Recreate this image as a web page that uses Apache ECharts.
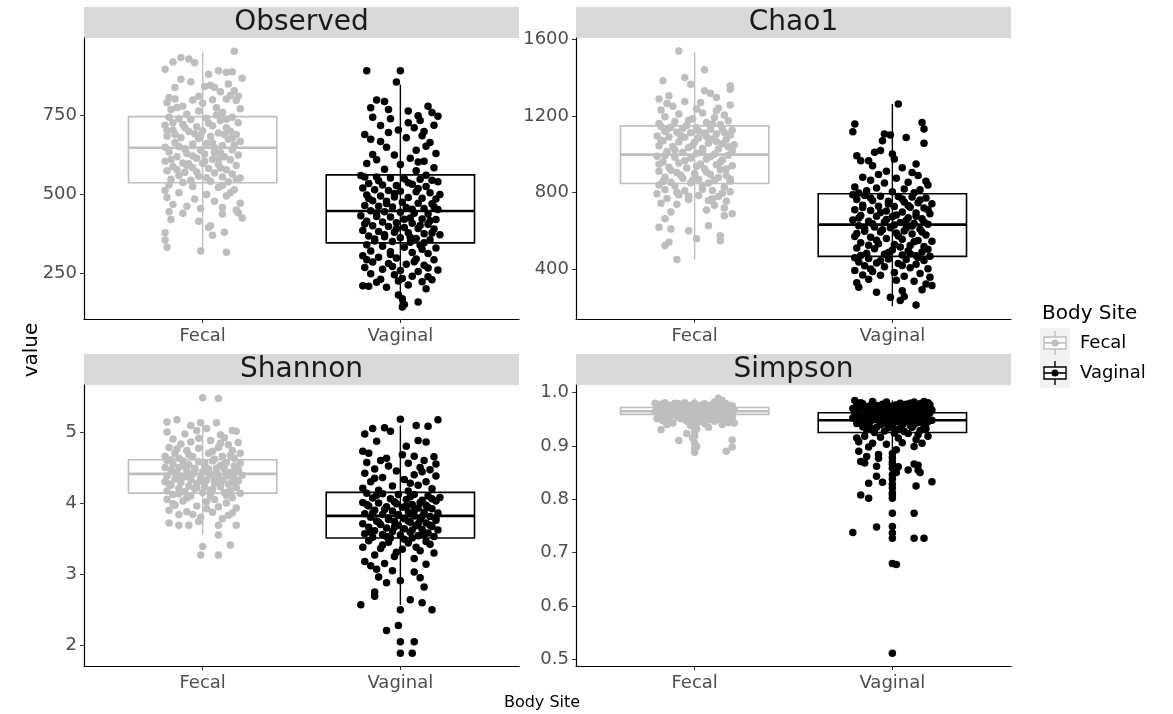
<!DOCTYPE html>
<html>
<head>
<meta charset="UTF-8">
<script src="https://cdn.jsdelivr.net/npm/echarts@6/dist/echarts.min.js"></script>
<style>
	html,body{margin:0;padding:0;background:#fff;}
	#main{width:1173px;height:714px;}
</style>
</head>
<body>
<div id="main"></div>
<script>
// categories / metrics
var sites = ['Fecal', 'Vaginal'];
var metrics = ['Observed', 'Chao1', 'Shannon', 'Simpson'];

// jittered points: [offset from category centre, value]
var obsFecal = [
[0.16,955],[-0.19,898],[-0.15,921],[-0.11,935],[-0.07,930],[-0.04,918],[0.08,893],[0.12,888],[0.15,890],[0.20,869],
[0.03,882],[0.04,847],[0.06,840],[-0.14,840],[-0.17,808],[-0.14,803],[-0.18,792],[0.16,829],[0.14,814],[0.12,803],[0.17,798],[-0.05,800],[-0.10,780],[0.00,790],[0.07,775],[-0.02,765],[0.10,760],[-0.16,770],[0.19,772],[-0.08,755],
[-0.17,745],[-0.12,740],[-0.06,738],[0.02,742],[0.09,735],[0.15,745],[0.18,728],[-0.19,720],[-0.10,722],[-0.03,715],[0.05,718],[0.12,712],[-0.15,705],[-0.07,700],[0.00,702],[0.08,695],[0.17,690],[-0.18,685],[-0.11,680],[-0.02,678],[0.04,684],[0.13,675],[0.19,668],[-0.14,665],[-0.05,660],[0.02,662],[0.10,655],[-0.19,650],[-0.09,645],[0.06,648],[0.15,642],[-0.01,640],[0.11,690],
[-0.17,635],[-0.08,630],[0.01,628],[0.09,632],[0.18,625],[-0.13,620],[-0.03,615],[0.05,612],[0.14,610],[-0.19,605],[-0.10,600],[0.00,598],[0.08,595],[0.17,592],[-0.15,588],[-0.05,585],[0.03,582],[0.12,578],[-0.18,575],[-0.09,570],[0.06,568],[0.15,565],[-0.12,560],[-0.02,558],[0.10,555],[0.19,552],[-0.16,548],[-0.06,545],[0.04,542],[0.13,540],[-0.10,538],[0.01,605],[-0.08,592],
[-0.17,530],[-0.05,525],[0.08,522],[0.16,515],[-0.12,505],[0.02,500],[0.12,495],[-0.18,490],[-0.04,485],[0.06,478],[0.19,472],[-0.15,468],[-0.08,462],[0.10,458],[-0.01,455],[0.17,450],[0.14,505],[-0.19,512],
[-0.17,445],[-0.10,440],[0.10,438],[0.18,442],[-0.16,420],[0.20,425],[-0.02,415],[0.04,400],[0.03,395],[0.11,380],[-0.19,378],[0.05,370],[-0.19,355],[-0.18,332],[-0.01,320],[0.12,316],
[-0.02,812],[0.09,826],[-0.13,776],[0.05,801],[-0.06,858],[0.13,851],[-0.11,866],[0.01,843],[0.18,812],[-0.15,728],[0.07,752],[-0.04,693],[0.14,701],[-0.09,712],[0.03,726],[0.16,657],[-0.12,652],[0.06,633],[-0.16,611],[0.11,620],[-0.03,571],[0.02,553],[-0.07,597],[0.09,584],[0.17,548],[-0.13,579],[0.05,663],[-0.01,687],[0.12,739],[-0.18,702],[0.08,612],[-0.05,622],[0.15,679],[-0.14,690],[0.10,528]
];
var obsVaginal = [
[-0.17,893],[0.00,893],[-0.02,857],[-0.12,800],[-0.08,795],[-0.15,775],[-0.06,770],[0.14,780],[0.04,765],[0.09,750],[0.16,760],[-0.14,745],[-0.05,740],[0.10,735],[0.19,748],[0.17,720],[-0.01,705],[0.07,712],[0.12,700],[-0.18,690],[-0.15,675],[-0.10,668],[0.03,680],[0.15,665],[-0.07,650],[0.08,640],[0.18,630],[-0.03,625],[0.05,615],[-0.12,610],[0.12,605],[-0.17,598],[0.00,595],[0.17,585],[-0.08,580],[0.08,575],
[-0.20,560],[-0.18,555],[-0.12,555],[-0.05,552],[0.02,550],[0.10,548],[0.16,545],[0.19,540],[-0.16,535],[-0.09,530],[-0.02,528],[0.06,532],[0.13,525],[-0.19,520],[-0.13,515],[-0.06,512],[0.00,510],[0.08,508],[0.15,505],[0.20,500],[-0.17,498],[-0.10,495],[-0.03,492],[0.04,490],[0.11,488],[0.18,485],[-0.14,480],[-0.07,478],[0.01,475],[0.09,472],[0.16,470],[-0.18,465],[-0.11,462],[-0.04,460],[0.03,458],[0.12,455],[0.19,452],[-0.15,448],[-0.08,445],[0.00,443],[0.07,440],[0.14,438],[-0.20,432],[-0.12,430],[-0.05,428],[0.05,425],[0.11,422],[0.18,420],[-0.17,415],[-0.09,412],[-0.02,410],[0.06,408],[0.14,405],[-0.14,400],[-0.06,398],[0.02,395],[0.09,392],[0.17,390],[-0.19,385],[-0.11,382],[-0.03,380],[0.04,378],[0.12,375],[0.20,372],[-0.16,368],[-0.08,365],[0.00,362],[0.08,360],[0.15,356],[-0.13,352],[-0.04,350],[0.05,348],[0.12,346],
[-0.17,340],[-0.09,335],[0.02,332],[0.10,338],[0.18,330],[-0.15,320],[-0.05,318],[0.06,315],[0.14,312],[-0.19,305],[-0.11,300],[-0.02,298],[0.08,295],[0.17,292],[-0.14,285],[-0.06,280],[0.03,278],[0.12,275],[-0.18,268],[-0.09,262],[0.00,258],[0.09,255],[0.19,260],[-0.15,248],[-0.03,245],[0.06,240],[0.14,238],[-0.10,230],[-0.01,225],[0.11,222],[-0.19,210],[-0.16,208],[-0.07,205],[0.04,212],[0.13,200],[-0.01,180],[0.01,168],[0.09,158],[0.02,150],[0.01,142],
[-0.11,543],[0.04,537],[0.13,561],[-0.03,503],[0.09,519],[-0.16,487],[0.17,461],[-0.07,471],[0.06,453],[-0.12,441],[0.02,421],[0.15,416],[-0.18,406],[-0.02,391],[0.10,401],[-0.08,372],[0.05,364],[0.16,377],[-0.13,358],[0.11,326],[-0.05,309],[0.07,286],[-0.17,292],[0.14,266],[-0.04,271],[0.01,233],[-0.12,221],[0.16,229],[0.09,603],[-0.14,627],[0.13,653],[-0.10,719],[0.04,728],[0.11,686],[-0.06,697]
];
var chaoFecal = [
[-0.08,1538],[0.05,1440],[-0.16,1382],[-0.05,1400],[-0.02,1365],[0.18,1356],[0.18,1338],[0.05,1330],[0.08,1318],[0.11,1295],[-0.18,1288],[-0.13,1305],[0.18,1256],[-0.05,1275],[0.03,1270],[0.12,1240],[-0.11,1250],[-0.17,1230],[0.04,1215],[-0.08,1210],[0.15,1205],[-0.15,1195],[0.10,1190],[-0.01,1185],[0.17,1175],[-0.10,1170],[0.06,1165],[-0.18,1160],[0.13,1155],[-0.04,1150],
[-0.17,1145],[-0.12,1140],[-0.06,1135],[0.01,1138],[0.08,1130],[0.14,1132],[0.19,1125],[-0.15,1120],[-0.09,1115],[-0.02,1112],[0.05,1110],[0.11,1105],[0.18,1100],[-0.19,1095],[-0.13,1090],[-0.05,1088],[0.02,1085],[0.09,1080],[0.16,1078],[-0.16,1070],[-0.08,1065],[0.00,1062],[0.07,1058],[0.14,1055],[0.20,1050],[-0.18,1045],[-0.11,1040],[-0.03,1035],[0.04,1030],[0.12,1028],[0.19,1020],[-0.14,1015],[-0.06,1010],[0.01,1005],[0.10,1000],[0.17,995],[-0.19,990],[-0.10,985],[-0.02,980],[0.06,975],[0.14,970],[-0.16,960],[-0.08,955],[0.03,950],[0.11,945],[0.19,940],[-0.13,932],[-0.04,928],[0.05,925],[0.13,920],[-0.18,912],[-0.09,905],[0.00,900],[0.08,895],[0.16,890],[-0.15,880],[-0.06,875],[0.02,870],[0.10,865],[0.18,860],[-0.12,855],[-0.02,852],[0.07,850],
[-0.18,840],[-0.10,835],[0.04,838],[0.15,830],[-0.15,815],[-0.05,810],[0.09,812],[0.18,805],[-0.19,795],[-0.08,790],[0.02,785],[0.12,780],[-0.14,770],[-0.03,765],[0.07,760],[0.16,755],[-0.17,745],[-0.09,740],[0.10,735],[0.15,720],[0.06,710],[-0.12,700],[0.19,690],[0.15,680],[-0.15,665],[0.07,628],[-0.18,620],[-0.12,611],[-0.03,602],[0.13,576],[0.01,560],[0.13,550],[-0.13,542],[-0.15,525],[-0.09,452],
[-0.03,1177],[0.09,1158],[-0.14,1129],[0.02,1121],[0.15,1113],[-0.07,1097],[0.06,1093],[-0.17,1073],[0.11,1067],[-0.01,1046],[0.17,1039],[-0.10,1022],[0.04,1013],[-0.15,994],[0.08,988],[-0.05,967],[0.13,959],[-0.18,948],[0.01,938],[0.16,924],[-0.12,917],[0.06,908],[-0.07,891],[0.12,879],[-0.01,866],[0.18,871],[-0.16,858],[0.04,818],[-0.09,802],[0.14,797],[-0.03,781],[0.09,769],[0.11,1227],[-0.14,1264],[0.01,1236]
];
var chaoVaginal = [
[0.03,1262],[-0.19,1157],[-0.20,1117],[0.15,1165],[0.16,1131],[0.16,1058],[0.07,1087],[-0.04,1105],[-0.01,1100],[-0.05,1070],[-0.09,1010],[-0.06,1020],[-0.18,992],[-0.16,966],[-0.12,966],[0.00,1001],[0.01,975],[0.12,949],[-0.10,940],[0.05,930],[-0.03,912],[0.10,905],[-0.07,895],[0.13,890],[-0.15,880],[0.02,875],[0.17,860],[-0.11,865],[0.08,855],[-0.04,850],[0.18,840],[-0.19,830],[-0.08,825],[0.06,820],[0.14,815],[-0.13,810],[0.00,805],[0.11,800],[-0.17,798],
[-0.20,790],[-0.14,785],[-0.06,782],[0.03,780],[0.10,778],[0.17,772],[-0.18,765],[-0.10,760],[-0.02,755],[0.06,752],[0.13,748],[0.20,742],[-0.15,735],[-0.07,730],[0.01,728],[0.09,725],[0.16,720],[-0.19,712],[-0.11,708],[-0.03,705],[0.05,700],[0.12,695],[0.19,690],[-0.16,682],[-0.08,678],[0.00,675],[0.08,670],[0.15,665],[-0.20,658],[-0.12,652],[-0.04,648],[0.04,645],[0.11,640],[0.18,636],[-0.17,628],[-0.09,622],[-0.01,618],[0.07,615],[0.14,610],[-0.14,600],[-0.06,595],[0.02,590],[0.10,585],[0.17,580],[-0.19,572],[-0.11,568],[-0.03,562],[0.05,558],[0.13,552],[0.20,548],[-0.16,540],[-0.07,535],[0.01,530],[0.09,525],[0.16,520],[-0.18,512],[-0.09,508],[0.00,502],[0.08,498],[0.15,492],[-0.13,485],[-0.04,480],[0.05,476],[0.12,472],[0.19,470],
[-0.19,462],[-0.12,458],[-0.02,455],[0.07,452],[0.16,448],[-0.17,440],[-0.08,435],[0.03,432],[0.12,428],[-0.14,420],[-0.04,415],[0.09,410],[0.18,405],[-0.19,395],[-0.10,390],[0.01,385],[0.14,380],[-0.15,372],[-0.06,370],[0.06,365],[0.19,360],[-0.12,350],[0.02,345],[0.11,340],[-0.18,332],[0.17,325],[-0.17,308],[0.20,317],[-0.08,282],[0.05,290],[-0.01,256],[0.04,239],[0.12,216],[0.06,260],[0.15,295],
[-0.11,772],[0.05,767],[0.14,762],[-0.02,741],[0.08,734],[-0.15,723],[0.18,711],[-0.06,697],[0.02,684],[0.12,677],[-0.17,668],[-0.03,661],[0.07,656],[0.16,648],[-0.10,638],[0.01,632],[0.10,627],[-0.14,614],[-0.05,607],[0.06,601],[0.15,596],[-0.18,588],[0.03,575],[-0.08,553],[0.11,545],[-0.12,527],[0.04,517],[0.18,506],[-0.02,489],[0.09,483],[-0.16,474],[0.13,463],[-0.06,446],[0.05,421],[-0.11,403]
];
var shanFecal = [
[0.00,5.48],[0.08,5.47],[-0.18,5.14],[-0.13,5.17],[-0.01,5.13],[0.07,5.13],[0.15,5.02],[0.17,5.01],[-0.18,5.00],[-0.03,5.02],[0.02,5.05],[-0.09,4.97],[0.11,4.92],[-0.15,4.90],[0.04,4.88],[-0.06,4.86],[0.18,4.85],[0.13,4.82],[-0.11,4.83],[-0.17,4.78],[0.08,4.78],[-0.02,4.77],[0.15,4.74],[-0.08,4.74],[0.19,4.70],[-0.14,4.70],[0.03,4.70],[-0.19,4.66],[0.10,4.66],[-0.05,4.65],[0.16,4.63],[-0.12,4.63],[0.06,4.62],
[-0.18,4.60],[-0.10,4.59],[-0.02,4.58],[0.05,4.59],[0.12,4.57],[0.19,4.56],[-0.15,4.55],[-0.07,4.54],[0.01,4.53],[0.09,4.53],[0.16,4.52],[-0.19,4.50],[-0.12,4.50],[-0.04,4.49],[0.03,4.48],[0.11,4.48],[0.18,4.47],[-0.16,4.46],[-0.08,4.45],[0.00,4.44],[0.07,4.44],[0.14,4.43],[-0.13,4.42],[-0.05,4.41],[0.04,4.40],[0.12,4.40],[0.20,4.39],[-0.18,4.38],[-0.09,4.37],[-0.01,4.36],[0.08,4.36],[0.16,4.35],[-0.14,4.34],[-0.06,4.33],[0.02,4.32],[0.10,4.32],[0.18,4.31],[-0.19,4.30],[-0.11,4.29],[-0.03,4.28],[0.06,4.28],[0.13,4.27],[-0.16,4.25],[-0.07,4.24],[0.01,4.23],[0.09,4.23],[0.17,4.22],[-0.12,4.21],[-0.04,4.20],[0.05,4.19],[0.14,4.18],[-0.18,4.17],[-0.09,4.16],[0.00,4.15],[0.11,4.15],[0.19,4.14],
[-0.15,4.12],[-0.06,4.10],[0.04,4.10],[0.15,4.08],[-0.18,4.05],[-0.10,4.03],[0.02,4.02],[0.12,4.00],[-0.14,3.97],[-0.03,3.96],[0.08,3.95],[0.17,3.93],[-0.17,3.90],[-0.08,3.88],[0.05,3.87],[-0.12,3.84],[0.13,3.83],[-0.01,3.80],[0.10,3.78],[-0.17,3.72],[-0.12,3.69],[-0.07,3.69],[-0.02,3.74],[0.08,3.69],[0.17,3.69],[0.08,3.55],[0.00,3.39],[0.14,3.41],[-0.01,3.27],[0.08,3.27],
[-0.02,4.91],[0.09,4.84],[-0.13,4.76],[0.05,4.73],[-0.07,4.68],[0.14,4.67],[-0.16,4.61],[0.01,4.57],[0.11,4.55],[-0.09,4.52],[0.07,4.49],[-0.04,4.47],[0.17,4.45],[-0.14,4.43],[0.03,4.42],[-0.06,4.39],[0.13,4.38],[-0.11,4.35],[0.06,4.34],[-0.01,4.31],[0.15,4.29],[-0.17,4.27],[0.09,4.26],[-0.03,4.22],[0.04,4.18],[-0.12,4.13],[0.12,4.11],[-0.08,4.07],[0.06,4.05],[-0.15,3.99],[0.02,3.92],[0.15,3.86],[-0.05,3.84],[0.09,4.96],[-0.06,5.09]
];
var shanVaginal = [
[0.00,5.18],[0.19,5.17],[0.08,5.09],[0.14,5.08],[-0.14,5.05],[-0.08,5.06],[-0.05,5.01],[-0.18,4.97],[-0.12,4.87],[0.09,4.88],[0.13,4.86],[-0.19,4.73],[-0.16,4.70],[0.01,4.68],[0.07,4.66],[0.17,4.65],[-0.10,4.60],[0.12,4.60],[-0.17,4.57],[0.18,4.55],[0.04,4.56],[-0.06,4.52],[0.10,4.50],[-0.13,4.48],[0.15,4.47],[-0.02,4.45],[-0.18,4.42],[0.07,4.40],[0.18,4.38],[-0.09,4.36],[0.02,4.33],[-0.15,4.30],[0.13,4.30],[0.09,4.25],[-0.04,4.24],[-0.19,4.21],[0.16,4.20],[-0.11,4.18],[0.04,4.17],
[-0.17,4.14],[-0.09,4.13],[-0.01,4.12],[0.07,4.12],[0.14,4.10],[0.20,4.08],[-0.14,4.07],[-0.05,4.06],[0.03,4.05],[0.11,4.04],[0.18,4.03],[-0.19,4.01],[-0.11,4.00],[-0.02,3.99],[0.06,3.98],[0.13,3.97],[-0.16,3.96],[-0.07,3.95],[0.01,3.94],[0.09,3.93],[0.16,3.92],[-0.13,3.90],[-0.04,3.89],[0.04,3.88],[0.12,3.87],[0.19,3.86],[-0.18,3.85],[-0.09,3.84],[-0.01,3.83],[0.07,3.82],[0.15,3.81],[-0.15,3.80],[-0.06,3.79],[0.02,3.78],[0.10,3.77],[0.18,3.76],[-0.12,3.75],[-0.03,3.74],[0.05,3.73],[0.13,3.72],[-0.19,3.71],[-0.10,3.70],[-0.01,3.69],[0.08,3.68],[0.16,3.67],[-0.16,3.66],[-0.07,3.65],[0.02,3.64],[0.11,3.63],[0.19,3.62],[-0.13,3.61],[-0.04,3.60],[0.05,3.59],[0.14,3.58],[-0.18,3.57],[-0.09,3.56],[0.00,3.55],[0.09,3.54],[0.17,3.53],[-0.14,3.52],[-0.05,3.51],[0.06,3.51],
[-0.16,3.47],[-0.06,3.45],[0.04,3.44],[0.15,3.42],[-0.19,3.38],[-0.10,3.36],[0.01,3.35],[0.10,3.33],[0.17,3.30],[-0.13,3.27],[-0.03,3.25],[0.07,3.22],[-0.18,3.18],[-0.08,3.15],[0.13,3.14],[-0.12,3.07],[-0.04,3.05],[0.07,3.03],[-0.11,2.96],[0.10,2.95],[0.00,2.91],[-0.07,2.88],[-0.13,2.75],[0.12,2.82],[-0.13,2.69],[0.05,2.64],[0.11,2.60],[-0.20,2.57],[0.00,2.50],[0.16,2.50],[-0.01,2.28],[-0.07,2.21],[0.00,2.05],[0.07,2.05],[0.00,1.89],[0.06,1.89],
[-0.12,4.11],[0.05,4.09],[0.16,4.06],[-0.03,4.02],[0.10,4.01],[-0.17,3.98],[0.03,3.96],[0.14,3.94],[-0.08,3.91],[0.07,3.89],[-0.14,3.86],[-0.01,3.84],[0.11,3.81],[0.18,3.79],[-0.06,3.77],[0.04,3.75],[-0.11,3.73],[0.09,3.71],[0.15,3.69],[-0.03,3.66],[0.06,3.62],[-0.15,3.59],[0.12,3.56],[-0.07,3.53],[0.02,3.49],[0.13,3.46],[-0.09,3.41],[0.08,3.38],[-0.02,3.31],[0.05,4.28],[-0.13,4.35],[0.11,4.44],[-0.07,4.63],[0.03,4.80],[-0.15,3.12]
];
var simpFecal = [
[0.12,0.989],[0.14,0.985],[0.10,0.982],[-0.20,0.980],[-0.15,0.981],[-0.10,0.980],[-0.05,0.981],[0.00,0.980],[0.05,0.979],[0.16,0.979],[-0.18,0.977],[-0.12,0.976],[-0.07,0.977],[-0.02,0.976],[0.03,0.975],[0.08,0.976],[0.13,0.977],[0.19,0.975],[-0.16,0.974],[-0.09,0.973],[-0.04,0.974],[0.01,0.973],[0.06,0.972],[0.11,0.973],[0.17,0.972],[-0.19,0.971],[-0.13,0.970],[-0.06,0.971],[0.00,0.970],[0.04,0.969],[0.09,0.970],[0.15,0.969],[0.20,0.968],[-0.17,0.967],[-0.11,0.968],[-0.03,0.967],[0.02,0.966],[0.07,0.967],[0.12,0.966],[0.18,0.965],[-0.20,0.964],[-0.14,0.965],[-0.08,0.964],[-0.01,0.963],[0.05,0.964],[0.10,0.963],[0.16,0.962],[-0.16,0.961],[-0.10,0.962],[-0.05,0.961],[0.03,0.960],[0.08,0.961],[0.14,0.960],[0.19,0.959],[-0.18,0.958],[-0.12,0.957],[-0.06,0.958],[0.01,0.957],[0.06,0.956],[0.11,0.957],[0.17,0.956],[-0.15,0.954],[-0.09,0.955],[-0.02,0.954],[0.04,0.953],[0.09,0.954],[0.15,0.952],[-0.19,0.951],[-0.13,0.950],[-0.07,0.951],[0.00,0.950],[0.07,0.949],[0.12,0.950],[0.18,0.948],[-0.16,0.947],[-0.04,0.946],[0.02,0.945],[0.10,0.946],[0.17,0.944],[-0.11,0.943],[0.05,0.942],[0.20,0.943],[-0.17,0.930],[-0.14,0.940],[0.14,0.940],[0.00,0.936],[0.07,0.935],[-0.04,0.923],[0.00,0.927],[0.00,0.918],[-0.08,0.910],[0.00,0.905],[0.19,0.911],[0.19,0.898],[0.00,0.896],[0.16,0.890],[0.00,0.888],[-0.01,0.948],[0.01,0.944],[-0.02,0.938],
[-0.17,0.978],[-0.08,0.979],[0.04,0.977],[0.15,0.976],[-0.14,0.973],[-0.02,0.972],[0.10,0.971],[0.18,0.970],[-0.11,0.969],[0.02,0.968],[0.13,0.967],[-0.19,0.966],[-0.06,0.965],[0.06,0.964],[0.17,0.963],[-0.13,0.962],[-0.01,0.961],[0.12,0.959],[-0.16,0.956],[0.03,0.955],[0.15,0.957],[-0.08,0.953],[0.08,0.952],[-0.03,0.949],[0.19,0.953],[0.01,0.932],[-0.01,0.915],[0.01,0.899],[0.18,0.962],[-0.18,0.961]
];
var simpVaginal = [
[-0.19,0.985],[-0.10,0.983],[0.11,0.982],[0.16,0.983],[0.04,0.980],[-0.15,0.979],[-0.05,0.978],[0.07,0.978],[0.14,0.979],[0.19,0.977],[-0.18,0.975],[-0.12,0.974],[-0.07,0.975],[-0.01,0.974],[0.03,0.975],[0.09,0.973],[0.13,0.974],[0.17,0.972],[-0.20,0.970],[-0.14,0.970],[-0.08,0.969],[-0.03,0.970],[0.01,0.968],[0.06,0.969],[0.11,0.968],[0.16,0.970],[0.20,0.967],[-0.17,0.966],[-0.11,0.965],[-0.05,0.966],[0.00,0.964],[0.05,0.965],[0.10,0.964],[0.15,0.963],[0.19,0.962],[-0.19,0.961],[-0.13,0.960],[-0.08,0.961],[-0.02,0.960],[0.03,0.959],[0.08,0.960],[0.13,0.958],[0.18,0.959],[-0.16,0.957],[-0.10,0.956],[-0.04,0.956],[0.01,0.955],[0.06,0.954],[0.12,0.955],[0.17,0.953],[-0.20,0.952],[-0.14,0.951],[-0.07,0.952],[-0.01,0.950],[0.04,0.951],[0.09,0.949],[0.15,0.950],[0.20,0.948],[-0.17,0.947],[-0.11,0.946],[-0.05,0.947],[0.02,0.945],[0.07,0.946],[0.13,0.944],[0.18,0.945],[-0.18,0.942],[-0.12,0.941],[-0.06,0.940],[0.00,0.941],[0.05,0.939],[0.11,0.940],[0.16,0.938],[-0.15,0.936],[-0.08,0.935],[-0.02,0.934],[0.04,0.933],[0.10,0.935],[0.17,0.932],[-0.13,0.930],[-0.04,0.928],[0.06,0.927],[0.14,0.929],[-0.09,0.925],[0.01,0.924],[0.08,0.923],
[-0.14,0.918],[-0.06,0.916],[0.03,0.915],[0.12,0.912],[0.18,0.918],[-0.17,0.908],[-0.10,0.905],[-0.03,0.903],[0.05,0.906],[0.15,0.905],[-0.12,0.898],[0.11,0.899],[-0.17,0.890],[0.02,0.893],[-0.07,0.884],[0.00,0.886],[-0.13,0.880],[0.00,0.878],[-0.07,0.877],[-0.16,0.871],[-0.14,0.868],[0.00,0.870],[0.11,0.866],[0.13,0.864],[0.03,0.861],[-0.08,0.862],[0.08,0.855],[0.13,0.855],[0.00,0.858],[0.02,0.850],[0.00,0.846],[-0.08,0.843],[0.14,0.850],[0.00,0.838],[-0.05,0.832],[-0.12,0.830],[0.12,0.825],[0.20,0.833],[0.00,0.828],[0.00,0.821],[0.00,0.812],[-0.16,0.808],[-0.12,0.802],[0.00,0.808],[0.00,0.802],[0.00,0.774],[0.11,0.774],[-0.20,0.738],[-0.08,0.748],[0.00,0.749],[0.00,0.737],[0.00,0.727],[0.11,0.727],[0.16,0.727],[0.00,0.680],[0.02,0.678],[0.00,0.512],
[-0.16,0.981],[-0.03,0.982],[0.09,0.980],[0.18,0.981],[-0.09,0.977],[0.02,0.977],[0.12,0.976],[-0.16,0.972],[-0.04,0.972],[0.08,0.971],[0.19,0.971],[-0.13,0.967],[0.03,0.967],[0.14,0.966],[-0.09,0.963],[0.00,0.962],[0.10,0.961],[-0.18,0.958],[-0.06,0.958],[0.05,0.957],[0.16,0.956],[-0.12,0.953],[0.02,0.953],[0.11,0.952],[-0.08,0.949],[0.06,0.948],[0.17,0.943],[-0.15,0.944],[-0.03,0.942],[0.09,0.938],[-0.11,0.933],[0.02,0.930],[0.13,0.921],[-0.18,0.915],[0.00,0.865]
];

// box stats: [lower whisker, Q1, median, Q3, upper whisker] for Fecal, Vaginal
var obsBox = [[320,537,648,747,954],[142,346,447,562,849]];
var chaoBox = [[452,848,998,1148,1533],[209,469,634,795,1262]];
var shanBox = [[3.55,4.14,4.41,4.61,5.13],[2.57,3.51,3.82,4.15,5.09]];
var simpBox = [[0.941,0.959,0.965,0.972,0.989],[0.870,0.925,0.948,0.962,0.985]];

// y tick labels per panel
var obsTicks = [250, 500, 750];
var chaoTicks = [400, 800, 1200, 1600];
var shanTicks = [2, 3, 4, 5];
var simpTicks = [0.5, 0.6, 0.7, 0.8, 0.9, 1.0];

var panels = [
	{name:'Observed', pts:[obsFecal, obsVaginal], box:obsBox, ticks:obsTicks, min:104, max:997, dec:0, left:84, top:38},
	{name:'Chao1', pts:[chaoFecal, chaoVaginal], box:chaoBox, ticks:chaoTicks, min:143, max:1605, dec:0, left:576, top:38},
	{name:'Shannon', pts:[shanFecal, shanVaginal], box:shanBox, ticks:shanTicks, min:1.71, max:5.66, dec:0, left:84, top:385},
	{name:'Simpson', pts:[simpFecal, simpVaginal], box:simpBox, ticks:simpTicks, min:0.488, max:1.014, dec:1, left:576, top:385}
];
var colors = ['#bebebe', '#000000'];
var font = 'DejaVu Sans';
var W = 435, H = 281;

var chart = echarts.init(document.getElementById('main'), null, {renderer:'canvas'});

var grids = [], xAxes = [], yAxes = [], series = [], graphics = [];

panels.forEach(function(p, i){
	grids.push({left:p.left, top:p.top, width:W, height:H});
	xAxes.push({
		type:'value', gridIndex:i, min:0.4, max:2.6,
		splitLine:{show:false},
		axisLine:{lineStyle:{color:'#000', width:1.2}},
		axisTick:{customValues:[1,2], length:4, lineStyle:{color:'#333'}},
		axisLabel:{customValues:[1,2], margin:8, fontSize:18, color:'#4d4d4d', fontFamily:font,
			formatter:function(v){ return sites[Math.round(v)-1]; }}
	});
	yAxes.push({
		type:'value', gridIndex:i, min:p.min, max:p.max,
		splitLine:{show:false},
		axisLine:{show:true, lineStyle:{color:'#000', width:1.2}},
		axisTick:{show:true, customValues:p.ticks, length:4, lineStyle:{color:'#333'}},
		axisLabel:{customValues:p.ticks, margin:7, fontSize:18, color:'#4d4d4d', fontFamily:font,
			formatter:(function(d){ return function(v){ return v.toFixed(d); }; })(p.dec)}
	});
	// boxes
	series.push({
		type:'custom', xAxisIndex:i, yAxisIndex:i, z:2, silent:true,
		data:p.box.map(function(b, k){ return [k+1].concat(b); }),
		encode:{x:0, y:[1,2,3,4,5]},
		renderItem:function(params, api){
			var x = api.value(0);
			var col = colors[params.dataIndex];
			var lo = api.coord([x, api.value(1)]);
			var q1 = api.coord([x - 0.375, api.value(2)]);
			var md = api.coord([x - 0.375, api.value(3)]);
			var q3 = api.coord([x + 0.375, api.value(4)]);
			var hi = api.coord([x, api.value(5)]);
			return {type:'group', children:[
				{type:'line', shape:{x1:lo[0], y1:lo[1], x2:hi[0], y2:hi[1]}, style:{stroke:col, lineWidth:1.4}},
				{type:'rect', shape:{x:q1[0], y:q3[1], width:q3[0]-q1[0], height:q1[1]-q3[1]}, style:{fill:'none', stroke:col, lineWidth:1.6}},
				{type:'line', shape:{x1:md[0], y1:md[1], x2:q3[0], y2:md[1]}, style:{stroke:col, lineWidth:2.6}}
			]};
		}
	});
	// jittered points
	p.pts.forEach(function(arr, k){
		series.push({
			type:'scatter', xAxisIndex:i, yAxisIndex:i, z:3, silent:true,
			symbolSize:7.5, itemStyle:{color:colors[k], opacity:1},
			data:arr.map(function(d){ return [k+1+d[0], d[1]]; })
		});
	});
	// facet strip
	graphics.push({type:'rect', shape:{x:p.left, y:p.top-31, width:W, height:31}, style:{fill:'#d9d9d9'}, z:0});
	graphics.push({type:'text', x:p.left+W/2, y:p.top-15, style:{text:p.name, font:'28px "DejaVu Sans"', fill:'#1a1a1a', align:'center', verticalAlign:'middle'}});
});

// axis titles
graphics.push({type:'text', x:32, y:350, rotation:Math.PI/2, style:{text:'value', font:'20px "DejaVu Sans"', fill:'#000', align:'center', verticalAlign:'middle'}});
graphics.push({type:'text', x:542, y:703, style:{text:'Body Site', font:'16px "DejaVu Sans"', fill:'#000', align:'center', verticalAlign:'middle'}});

// legend
graphics.push({type:'text', x:1042, y:314, style:{text:'Body Site', font:'20px "DejaVu Sans"', fill:'#000', align:'left', verticalAlign:'middle'}});
[['Fecal', 343], ['Vaginal', 373]].forEach(function(it, k){
	var cy = it[1], col = colors[k];
	graphics.push({type:'rect', shape:{x:1040, y:cy-15, width:30, height:30}, style:{fill:'#f2f2f2'}});
	graphics.push({type:'line', shape:{x1:1055, y1:cy-12, x2:1055, y2:cy+12}, style:{stroke:col, lineWidth:1.4}});
	graphics.push({type:'rect', shape:{x:1044, y:cy-6, width:22, height:12}, style:{fill:'#fff', stroke:col, lineWidth:1.4}});
	graphics.push({type:'line', shape:{x1:1044, y1:cy, x2:1066, y2:cy}, style:{stroke:col, lineWidth:1.6}});
	graphics.push({type:'circle', shape:{cx:1055, cy:cy, r:3.5}, style:{fill:col}});
	graphics.push({type:'text', x:1080, y:cy, style:{text:it[0], font:'18px "DejaVu Sans"', fill:'#000', align:'left', verticalAlign:'middle'}});
});

chart.setOption({
	animation:false,
	textStyle:{fontFamily:font},
	grid:grids, xAxis:xAxes, yAxis:yAxes, series:series, graphic:graphics
});
</script>
</body>
</html>
